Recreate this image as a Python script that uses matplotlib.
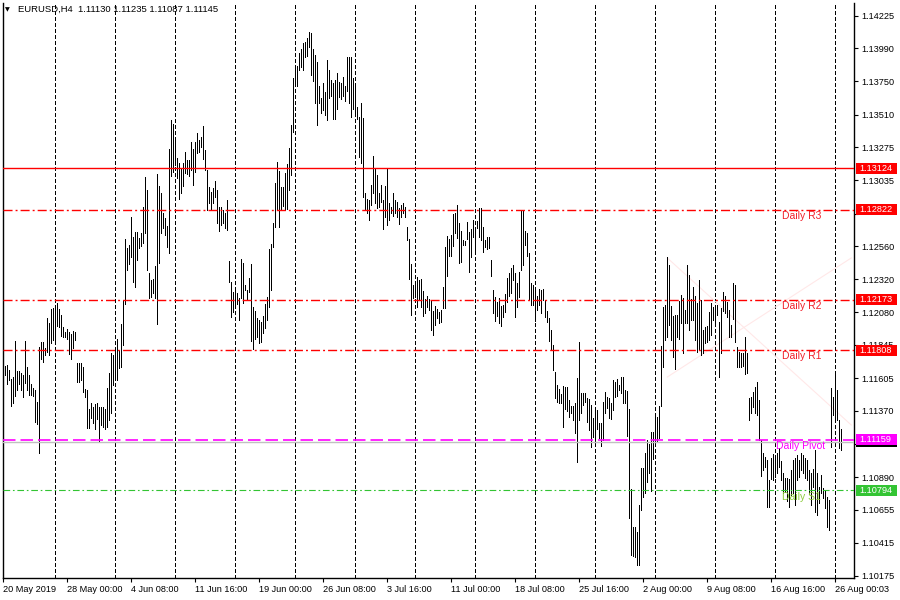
import numpy as np
import matplotlib.pyplot as plt
import matplotlib.transforms as mtransforms
from matplotlib.patches import Rectangle

plt.rcParams['font.family'] = ['Liberation Sans', 'DejaVu Sans']

# EURUSD H4 bars, high / low in points (1e-5)
high_pts = [
    111743, 111693, 111700, 111664, 111599, 111613, 111874, 111657, 111657, 111642,
    111628, 111874, 111686, 111628, 111563, 111534, 111519, 111433, 111830, 111866,
    111866, 111823, 112040, 112004, 112105, 112112, 112112, 112148, 112105, 112062,
    111975, 111939, 111960, 111939, 111924, 111946, 111939, 111715, 111715, 111715,
    111686, 111527, 111519, 111382, 111425, 111396, 111418, 111425, 111396, 111396,
    111396, 111382, 111534, 111642, 111787, 111772, 111823, 111888, 111801, 111997,
    112170, 112611, 112546, 112568, 112770, 112626, 112662, 112662, 112618, 112654,
    112842, 113059, 112965, 112365, 112315, 112322, 112416, 113081, 112994, 112944,
    112799, 112763, 112705, 113262, 113471, 113443, 113334, 113197, 113161, 113124,
    113161, 113240, 113182, 113182, 113312, 113262, 113312, 113377, 113327, 113348,
    113428, 113255, 113110, 112987, 112951, 112980, 113030, 112965, 112842, 112842,
    112821, 112799, 112893, 112452, 112300, 112228, 112242, 112221, 112185, 112466,
    112438, 112278, 112242, 112329, 112430, 112119, 112090, 112040, 112025, 112011,
    112054, 112141, 112192, 112539, 112575, 112727, 113016, 113168, 113103, 112987,
    112987, 113088, 113153, 113269, 113435, 113775, 113855, 113862, 113956, 113985,
    114028, 114035, 114064, 114108, 114100, 113985, 113941, 113891, 113717, 113631,
    113739, 113674, 113905, 113833, 113761, 113739, 113761, 113811, 113746, 113739,
    113782, 113717, 113927, 113927, 113927, 113775, 113710, 113565, 113493, 113594,
    113486, 112944, 112900, 112893, 113001, 113211, 113124, 113074, 112944, 113001,
    112893, 112994, 113124, 112871, 112842, 112944, 112893, 112879, 112835, 112857,
    112871, 112842, 112698, 112611, 112430, 112278, 112293, 112336, 112315, 112322,
    112235, 112177, 112199, 112177, 112163, 112090, 112127, 112105, 112083, 112098,
    112264, 112553, 112633, 112611, 112640, 112792, 112799, 112857, 112727, 112669,
    112604, 112597, 112734, 112662, 112683, 112748, 112698, 112741, 112835, 112835,
    112698, 112604, 112626, 112626, 112459, 112242, 112192, 112156, 112185, 112127,
    112134, 112213, 112329, 112365, 112401, 112423, 112365, 112293, 112372, 112821,
    112814, 112669, 112654, 112510, 112293, 112278, 112264, 112199, 112250, 112242,
    112250, 112170, 112090, 112040, 111953, 111845, 111649, 111555, 111527, 111490,
    111548, 111541, 111541, 111447, 111404, 111404, 111425, 111606, 111866, 111498,
    111498, 111498, 111462, 111454, 111411, 111317, 111382, 111375, 111281, 111281,
    111433, 111505, 111469, 111462, 111425, 111592, 111577, 111599, 111555, 111613,
    111613, 111519, 111512, 111382, 110804, 110529, 110529, 110493, 110688, 110955,
    110955, 111064, 111158, 111129, 111216, 111216, 111324, 111324, 111404, 111837,
    112119, 112134, 112481, 112423, 112127, 112054, 112062, 112062, 112163, 112206,
    112185, 112098, 112423, 112351, 112177, 112264, 112199, 112148, 112315, 112170,
    111953, 111975, 111982, 112083, 112148, 112119, 112119, 112134, 112011, 112112,
    112228, 112199, 112156, 112098, 111989, 112293, 112278, 111830, 111794, 111787,
    111787, 111903, 111787, 111462, 111469, 111505, 111541, 111577, 111447, 111158,
    111064, 111035, 111013, 110869, 111028, 111057, 111035, 111064, 111100, 111006,
    110919, 110883, 110883, 110876, 110941, 111013, 111028, 111049, 111013, 111064,
    111049, 111028, 111013, 110941, 110919, 110948, 111086, 110919, 110818, 110905,
    110811, 110796, 110746, 110724, 111534, 111469, 111642, 111519, 111302, 111235,
]
low_pts = [
    111548, 111628, 111563, 111592, 111404, 111425, 111476, 111519, 111563, 111519,
    111469, 111570, 111519, 111483, 111483, 111476, 111288, 111274, 111064, 111743,
    111722, 111772, 111794, 111772, 111859, 111881, 111881, 111982, 111975, 111910,
    111903, 111903, 111888, 111780, 111743, 111823, 111881, 111577, 111577, 111592,
    111505, 111469, 111245, 111245, 111317, 111281, 111237, 111310, 111143, 111266,
    111252, 111237, 111252, 111302, 111353, 111555, 111613, 111592, 111678, 111686,
    111845, 112141, 112387, 112430, 112481, 112300, 112264, 112459, 112546, 112560,
    112582, 112654, 112387, 112185, 112192, 112221, 112185, 111997, 112438, 112654,
    112691, 112640, 112553, 112510, 113067, 113095, 113146, 113052, 112900, 112944,
    112994, 113088, 113081, 113067, 113110, 113001, 113095, 113233, 113240, 113276,
    113189, 113110, 112821, 112871, 112821, 112871, 112915, 112727, 112669, 112712,
    112727, 112691, 112676, 112300, 112047, 112083, 112112, 112141, 112025, 112185,
    112148, 112242, 112170, 112228, 111874, 111816, 111888, 111903, 111859, 111866,
    111931, 111968, 112025, 112119, 112242, 112553, 112698, 112828, 112698, 112821,
    112850, 112821, 112828, 112965, 113074, 113385, 113717, 113717, 113833, 113855,
    113833, 113927, 113934, 113999, 113797, 113753, 113594, 113435, 113594, 113522,
    113544, 113508, 113471, 113631, 113645, 113479, 113479, 113551, 113638, 113623,
    113645, 113609, 113681, 113594, 113493, 113551, 113508, 113479, 113204, 113161,
    112915, 112828, 112799, 112748, 112857, 112944, 112871, 112835, 112842, 112879,
    112683, 112770, 112712, 112748, 112799, 112777, 112799, 112770, 112720, 112770,
    112799, 112770, 112604, 112322, 112062, 112185, 112192, 112119, 112170, 112119,
    112054, 112076, 112119, 112098, 111953, 111917, 111989, 112040, 112004, 112011,
    112112, 112112, 112344, 112488, 112488, 112560, 112654, 112618, 112438, 112445,
    112568, 112568, 112611, 112372, 112481, 112626, 112532, 112691, 112626, 112604,
    112517, 112553, 112539, 112546, 112344, 112076, 112018, 112054, 112004, 111982,
    112047, 112083, 112156, 112199, 112221, 112315, 112047, 112119, 112192, 112387,
    112423, 112568, 112488, 112170, 112134, 112134, 112018, 112098, 112134, 112076,
    112170, 112047, 112011, 111874, 111809, 111664, 111462, 111433, 111425, 111425,
    111252, 111382, 111368, 111324, 111353, 111302, 111208, 110999, 111302, 111353,
    111411, 111433, 111288, 111230, 111107, 111180, 111151, 111237, 111172, 111114,
    111158, 111353, 111389, 111317, 111310, 111375, 111469, 111476, 111519, 111498,
    111425, 111425, 111187, 110594, 110326, 110319, 110312, 110254, 110254, 110652,
    110746, 110775, 110854, 110919, 110789, 111020, 111143, 111151, 111172, 111404,
    111686, 111881, 111903, 111989, 111881, 111758, 111671, 111903, 111888, 112004,
    111787, 112004, 112004, 111953, 112025, 112025, 111881, 111794, 111809, 111772,
    111787, 111859, 111866, 111881, 111917, 112025, 111989, 112062, 111613, 111787,
    112090, 112076, 112047, 111903, 111903, 112033, 111866, 111686, 111686, 111686,
    111693, 111635, 111642, 111302, 111353, 111396, 111353, 111339, 111158, 110898,
    110941, 110963, 110673, 110673, 110876, 110869, 110890, 110919, 110963, 110869,
    110775, 110782, 110717, 110673, 110760, 110775, 110688, 110869, 110890, 110941,
    110919, 110883, 110869, 110767, 110688, 110818, 110637, 110616, 110702, 110775,
    110739, 110666, 110529, 110507, 111107, 111339, 111288, 111302, 111100, 111087,
]

date_labels = ['20 May 2019', '28 May 00:00', '4 Jun 08:00', '11 Jun 16:00',
               '19 Jun 00:00', '26 Jun 08:00', '3 Jul 16:00', '11 Jul 00:00',
               '18 Jul 08:00', '25 Jul 16:00', '2 Aug 00:00', '9 Aug 08:00',
               '16 Aug 16:00', '26 Aug 00:03']

y_ticks = [1.14225, 1.13990, 1.13750, 1.13510, 1.13275, 1.13035, 1.12795,
           1.12560, 1.12320, 1.12080, 1.11845, 1.11605, 1.11370, 1.11130,
           1.10890, 1.10655, 1.10415, 1.10175]
# these tick labels sit under the price tags in the original
hidden_ticks = [1.12795, 1.11130]

last_ohlc = [1.11130, 1.11235, 1.11087, 1.11145]

level_names = ['Daily R3', 'Daily R2', 'Daily R1', 'Daily Pivot', 'Daily S1']
level_prices = [1.12822, 1.12173, 1.11808, 1.11159, 1.10794]
level_colors = ['#FF0000', '#FF0000', '#FF0000', '#FF00FF', '#33C433']
level_text_colors = ['#F0202A', '#F0202A', '#F0202A', '#FF00FF', '#8CCB3C']
resist_line = 1.13124
bid_price = 1.11145

# faint trend lines on the right
fan_x = [332, 424]
fan_a = [1.12474, 1.11266]
fan_b = [1.11613, 1.12474]

high = np.array(high_pts) / 1e5
low = np.array(low_pts) / 1e5
idx = np.arange(len(high))

fig = plt.figure(figsize=(9, 6), dpi=100)
ax = fig.add_axes([2.5 / 900, 21.7 / 600, 851.5 / 900, 575.3 / 600])
ax.set_xlim(-0.4, 425.35)
ax.set_ylim(1.10158, 1.14317)

# weekly dashed grid
for g in range(26, len(high), 30):
    ax.axvline(g, color='black', lw=0.8, ls=(0, (3, 2)), zorder=1, antialiased=False)

ax.plot(fan_x, fan_a, color='#FFE8E8', lw=0.8, zorder=1.5)
ax.plot(fan_x, fan_b, color='#FFE8E8', lw=0.8, zorder=1.5)

ax.vlines(idx, low, high, color='black', lw=0.6, zorder=3, antialiased=False)

# price levels
ax.axhline(resist_line, color='#FF0000', lw=1.0, zorder=4)
ax.axhline(bid_price, color='#C0C0C0', lw=1.0, zorder=3.5)
for name, p, c, tc in zip(level_names, level_prices, level_colors, level_text_colors):
    if name == 'Daily Pivot':
        ax.axhline(p, color=c, lw=1.2, ls=(0, (7.5, 3)), zorder=4)
        tx = 386.5
    elif name == 'Daily S1':
        ax.axhline(p, color=c, lw=0.8, ls=(0, (6, 2.5, 1.5, 2.5)), zorder=4)
        tx = 389.5
    else:
        ax.axhline(p, color=c, lw=1.0, ls=(0, (6.5, 2.2, 1.4, 2.2)), zorder=4)
        tx = 389.5
    ax.text(tx, p - 0.00009, name, color=tc, fontsize=7.5, ha='left', va='top', zorder=5)

# axes styling
ax.spines['top'].set_visible(False)
for s in ['left', 'bottom', 'right']:
    ax.spines[s].set_color('black')
    ax.spines[s].set_linewidth(1.0)

ax.yaxis.tick_right()
ax.set_yticks(y_ticks)
ax.set_yticklabels(['' if v in hidden_ticks else f'{v:.5f}' for v in y_ticks])
ax.tick_params(axis='y', direction='out', length=3, width=0.8, pad=2.2, labelsize=6.6)

ax.set_xticks(np.arange(0, len(high), 32))
ax.set_xticklabels(date_labels)
for lbl in ax.get_xticklabels():
    lbl.set_ha('left')
ax.tick_params(axis='x', direction='out', length=3, width=0.8, pad=2, labelsize=6.6)

# price tags on the right axis (bid tag sits under the pivot tag)
trans = mtransforms.blended_transform_factory(ax.transAxes, ax.transData)
tag_h = 0.000795
ax.add_patch(Rectangle((1.0023, bid_price - tag_h / 2), 0.0482, tag_h, transform=trans,
                       facecolor='black', edgecolor='none', clip_on=False, zorder=9))
tags = [(resist_line, '#FF0000')] + \
       [(p, c) for p, c in zip(level_prices, ['#FF0000', '#FF0000', '#FF0000', '#FF00FF', '#33C433'])]
for k, (p, c) in enumerate(tags):
    ax.add_patch(Rectangle((1.0023, p - tag_h / 2), 0.0482, tag_h, transform=trans,
                           facecolor=c, edgecolor='none', clip_on=False, zorder=10 + k))
    ax.text(1.0062, p, f'{p:.5f}', transform=trans, color='white', fontsize=6.6,
            ha='left', va='center', clip_on=False, zorder=10.5 + k)

# header
fig.text(5 / 900, 1 - 9.5 / 600, '\u25BC', fontsize=4.5, family='DejaVu Sans',
         ha='left', va='center')
fig.text(18 / 900, 1 - 9.5 / 600,
         'EURUSD,H4  ' + ' '.join(f'{v:.5f}' for v in last_ohlc),
         fontsize=6.8, ha='left', va='center')

fig.savefig('out.png', dpi=100)
